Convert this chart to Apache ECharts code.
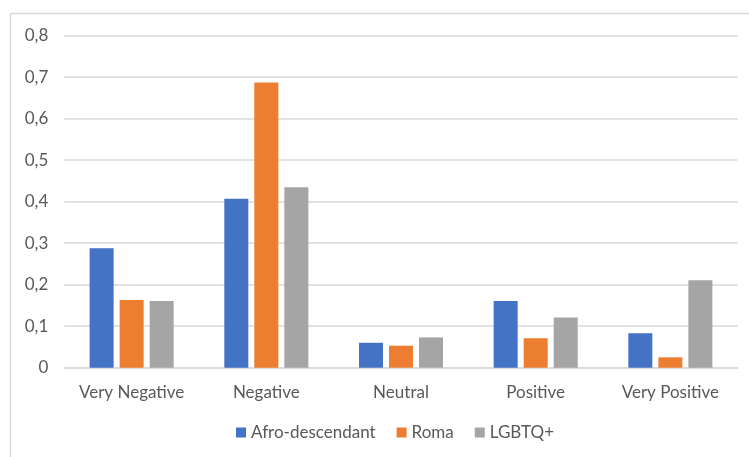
<!DOCTYPE html>
<html>
<head>
<meta charset="utf-8">
<script src="https://cdn.jsdelivr.net/npm/echarts@6/dist/echarts.min.js"></script>
<style>
html,body{margin:0;padding:0;background:#fff;}
#chart{width:749px;height:457px;}
</style>
</head>
<body>
<div id="chart"></div>
<script>
const categories = ['Very Negative', 'Negative', 'Neutral', 'Positive', 'Very Positive'];
const afroDescendant = [0.288, 0.407, 0.060, 0.161, 0.083];
const roma = [0.163, 0.687, 0.053, 0.071, 0.025];
const lgbtq = [0.161, 0.435, 0.073, 0.121, 0.211];
const seriesNames = ['Afro-descendant', 'Roma', 'LGBTQ+'];
const colors = ['#4472C4', '#ED7D31', '#A5A5A5'];

const chart = echarts.init(document.getElementById('chart'), null, {renderer: 'canvas'});
const font = 'Lato';
const mk = (name, data, color) => ({
  name: name,
  type: 'bar',
  data: data,
  itemStyle: {color: color},
  barGap: '25%',
  barCategoryGap: '37.6%',
  animation: false
});
chart.setOption({
  animation: false,
  color: colors,
  graphic: [{
    type: 'rect',
    shape: {x: 10.5, y: 13.5, width: 760, height: 480},
    style: {fill: 'none', stroke: '#d9d9d9', lineWidth: 1.5},
    silent: true
  }],
  grid: {left: 64.3, right: 11.3, top: 35.7, bottom: 89.3, containLabel: false},
  legend: {
    data: seriesNames,
    bottom: 11,
    left: 231,
    itemWidth: 10,
    itemHeight: 10,
    itemGap: 21,
    icon: 'rect',
    textStyle: {fontFamily: font, fontSize: 17, color: '#595959'}
  },
  xAxis: {
    type: 'category',
    data: categories,
    axisLine: {show: true, lineStyle: {color: '#d9d9d9', width: 1.5}},
    axisTick: {show: false},
    axisLabel: {fontFamily: font, fontSize: 17, color: '#595959', margin: 16, interval: 0, hideOverlap: false}
  },
  yAxis: {
    type: 'value',
    min: 0,
    max: 0.8,
    interval: 0.1,
    axisLine: {show: false},
    axisTick: {show: false},
    splitLine: {lineStyle: {color: '#d9d9d9', width: 1.5}},
    axisLabel: {
      fontFamily: font, fontSize: 17, color: '#595959', margin: 16,
      formatter: v => v === 0 ? '0' : v.toFixed(1).replace('.', ',')
    }
  },
  series: [
    mk(seriesNames[0], afroDescendant, colors[0]),
    mk(seriesNames[1], roma, colors[1]),
    mk(seriesNames[2], lgbtq, colors[2])
  ]
});
</script>
</body>
</html>
